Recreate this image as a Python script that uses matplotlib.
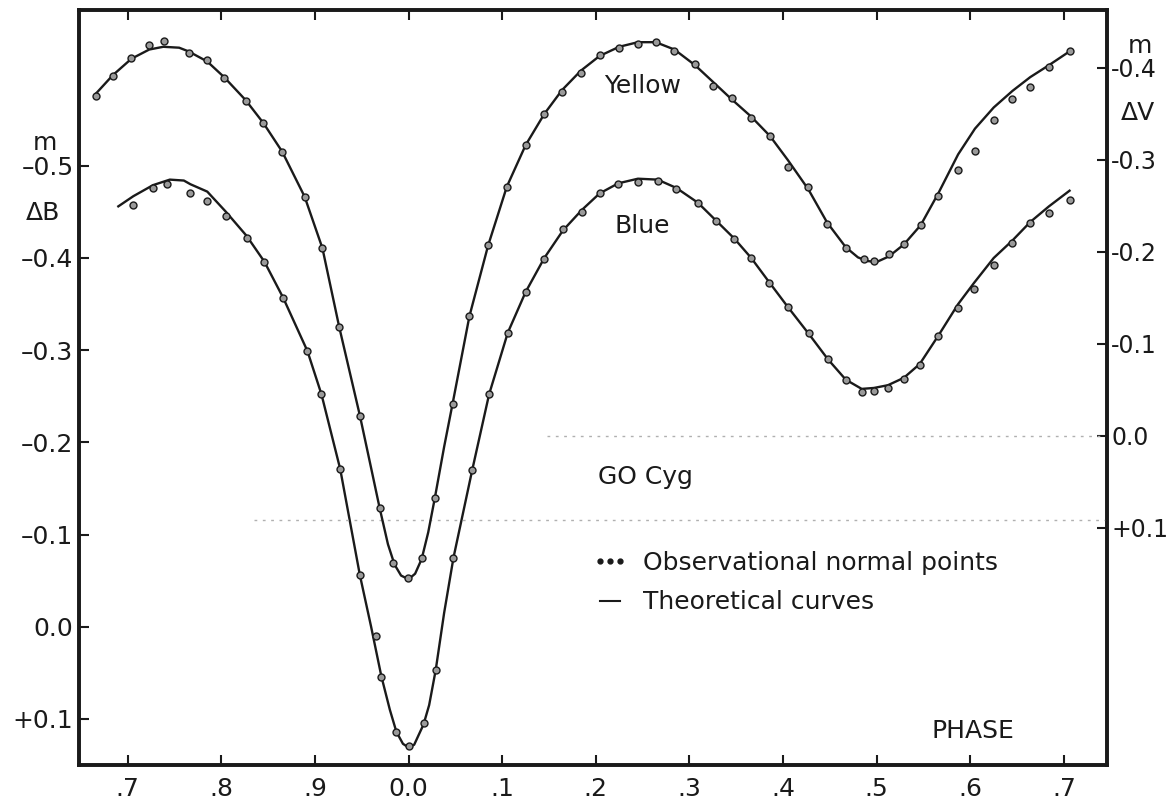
import matplotlib
matplotlib.use("Agg")
import matplotlib.pyplot as plt
from matplotlib.lines import Line2D

# observational normal points, yellow (right axis, delta V)
yel_phase = [-0.334, -0.316, -0.296, -0.277, -0.261, -0.235, -0.215, -0.197, -0.174, -0.155,
             -0.135, -0.111, -0.092, -0.074, -0.052, -0.031, -0.017, -0.001, 0.014, 0.028,
             0.048, 0.065, 0.085, 0.105, 0.125, 0.145, 0.164, 0.184, 0.204, 0.225,
             0.245, 0.264, 0.284, 0.306, 0.325, 0.345, 0.366, 0.386, 0.405, 0.427,
             0.447, 0.467, 0.486, 0.497, 0.513, 0.529, 0.547, 0.566, 0.587, 0.605,
             0.625, 0.645, 0.664, 0.684, 0.706]
yel_dv = [-0.370, -0.391, -0.411, -0.425, -0.429, -0.416, -0.409, -0.389, -0.364, -0.340,
          -0.309, -0.260, -0.204, -0.118, -0.022, 0.078, 0.138, 0.155, 0.133, 0.068,
          -0.035, -0.130, -0.207, -0.271, -0.316, -0.350, -0.374, -0.395, -0.414, -0.422,
          -0.426, -0.428, -0.418, -0.404, -0.380, -0.367, -0.346, -0.326, -0.292, -0.270,
          -0.230, -0.204, -0.192, -0.190, -0.198, -0.209, -0.229, -0.261, -0.289, -0.310,
          -0.343, -0.366, -0.379, -0.401, -0.418]

# observational normal points, blue (left axis, delta B)
blue_phase = [-0.294, -0.273, -0.258, -0.233, -0.215, -0.195, -0.173, -0.154, -0.134, -0.108,
              -0.093, -0.073, -0.052, -0.035, -0.029, -0.013, 0.000, 0.016, 0.029, 0.048,
              0.068, 0.086, 0.106, 0.125, 0.145, 0.165, 0.185, 0.204, 0.224, 0.245,
              0.266, 0.286, 0.309, 0.328, 0.348, 0.366, 0.385, 0.405, 0.428, 0.448,
              0.467, 0.484, 0.497, 0.512, 0.529, 0.546, 0.566, 0.587, 0.604, 0.625,
              0.645, 0.664, 0.684, 0.706]
blue_db = [-0.457, -0.476, -0.480, -0.471, -0.462, -0.446, -0.422, -0.396, -0.357, -0.299,
           -0.252, -0.171, -0.056, 0.010, 0.054, 0.114, 0.129, 0.104, 0.047, -0.075,
           -0.170, -0.252, -0.319, -0.363, -0.399, -0.431, -0.450, -0.471, -0.480, -0.482,
           -0.483, -0.475, -0.460, -0.440, -0.421, -0.400, -0.373, -0.347, -0.319, -0.290,
           -0.268, -0.255, -0.256, -0.259, -0.269, -0.284, -0.315, -0.346, -0.366, -0.392,
           -0.416, -0.438, -0.449, -0.463]

# theoretical curves
yel_curve_phase = [-0.334, -0.316, -0.296, -0.277, -0.262, -0.245, -0.235, -0.215, -0.197, -0.174,
                   -0.155, -0.135, -0.111, -0.092, -0.074, -0.052, -0.040, -0.031, -0.022, -0.015,
                   -0.008, 0.000, 0.007, 0.014, 0.021, 0.028, 0.038, 0.048, 0.065, 0.085,
                   0.105, 0.125, 0.145, 0.164, 0.184, 0.204, 0.225, 0.245, 0.264, 0.284,
                   0.306, 0.325, 0.345, 0.366, 0.386, 0.405, 0.427, 0.447, 0.467, 0.480,
                   0.490, 0.500, 0.513, 0.529, 0.547, 0.566, 0.587, 0.605, 0.625, 0.645,
                   0.664, 0.684, 0.706]
yel_curve = [-0.372, -0.392, -0.410, -0.420, -0.423, -0.422, -0.418, -0.407, -0.390, -0.365,
             -0.340, -0.309, -0.260, -0.204, -0.118, -0.022, 0.035, 0.078, 0.118, 0.140,
             0.152, 0.156, 0.150, 0.134, 0.105, 0.068, 0.012, -0.040, -0.130, -0.207,
             -0.271, -0.316, -0.350, -0.376, -0.397, -0.413, -0.423, -0.428, -0.428, -0.420,
             -0.403, -0.385, -0.366, -0.347, -0.326, -0.300, -0.268, -0.232, -0.205, -0.194,
             -0.190, -0.189, -0.195, -0.208, -0.229, -0.264, -0.306, -0.334, -0.357, -0.375,
             -0.390, -0.403, -0.418]

blue_curve_phase = [-0.310, -0.294, -0.273, -0.255, -0.240, -0.233, -0.215, -0.195, -0.173, -0.154,
                    -0.134, -0.108, -0.093, -0.073, -0.052, -0.040, -0.029, -0.020, -0.013, -0.006,
                    0.000, 0.006, 0.016, 0.022, 0.029, 0.038, 0.048, 0.068, 0.086, 0.106,
                    0.125, 0.145, 0.165, 0.185, 0.204, 0.224, 0.245, 0.266, 0.286, 0.309,
                    0.328, 0.348, 0.366, 0.385, 0.405, 0.428, 0.448, 0.467, 0.484, 0.497,
                    0.512, 0.529, 0.546, 0.566, 0.587, 0.604, 0.625, 0.645, 0.664, 0.684,
                    0.706]
blue_curve = [-0.456, -0.467, -0.479, -0.485, -0.484, -0.480, -0.472, -0.450, -0.424, -0.396,
              -0.357, -0.299, -0.252, -0.171, -0.056, 0.000, 0.054, 0.090, 0.114, 0.127,
              0.131, 0.128, 0.106, 0.085, 0.047, -0.015, -0.075, -0.170, -0.252, -0.319,
              -0.363, -0.400, -0.430, -0.452, -0.470, -0.481, -0.486, -0.485, -0.476, -0.460,
              -0.441, -0.421, -0.400, -0.374, -0.347, -0.317, -0.290, -0.268, -0.258, -0.259,
              -0.262, -0.270, -0.285, -0.316, -0.350, -0.373, -0.400, -0.419, -0.439, -0.456,
              -0.473]

x_ticks = [-0.3, -0.2, -0.1, 0.0, 0.1, 0.2, 0.3, 0.4, 0.5, 0.6, 0.7]
x_labels = [".7", ".8", ".9", "0.0", ".1", ".2", ".3", ".4", ".5", ".6", ".7"]
b_ticks = [-0.5, -0.4, -0.3, -0.2, -0.1, 0.0, 0.1]
b_labels = ["–0.5", "–0.4", "–0.3", "–0.2", "–0.1", "0.0", "+0.1"]
v_ticks = [-0.4, -0.3, -0.2, -0.1, 0.0, 0.1]
v_labels = ["-0.4", "-0.3", "-0.2", "-0.1", "0.0", "+0.1"]

plt.rcParams['font.family'] = ['DejaVu Sans']
ink = '#1a1a1a'
fs = 18

fig = plt.figure(figsize=(11.76, 8.1), dpi=100)
ax = fig.add_axes([79/1176, 45/810, 1028/1176, 755/810])
ax2 = ax.twinx()

ax.set_xlim(-0.352, 0.746)
ax.set_ylim(0.150, -0.669)
ax2.set_ylim(0.358, -0.463)

# faint partial lines as in the scan
ax2.axhline(0.0, xmin=0.455, xmax=1.0, color='#b0b0b0', lw=1, ls=(0, (2, 4)))
ax2.axhline(0.092, xmin=0.17, xmax=1.0, color='#b0b0b0', lw=1, ls=(0, (2, 4)))

ax.plot(blue_curve_phase, blue_curve, color=ink, lw=1.7)
ax2.plot(yel_curve_phase, yel_curve, color=ink, lw=1.7)
ax.plot(blue_phase, blue_db, ls='', marker='o', ms=5, mfc='#9a9a9a', mec=ink, mew=1.0)
ax2.plot(yel_phase, yel_dv, ls='', marker='o', ms=5, mfc='#9a9a9a', mec=ink, mew=1.0)

ax.set_xticks(x_ticks)
ax.set_xticklabels(x_labels, fontsize=fs, color=ink)
ax.set_yticks(b_ticks)
ax.set_yticklabels(b_labels, fontsize=fs, color=ink)
ax2.set_yticks(v_ticks)
ax2.set_yticklabels(v_labels, fontsize=fs - 1, color=ink)

ax.tick_params(axis='x', direction='in', top=True, length=7, width=1.5, pad=9, colors=ink)
ax.tick_params(axis='y', direction='in', length=7, width=1.5, pad=4, colors=ink)
ax2.tick_params(axis='y', direction='in', length=7, width=1.5, pad=3, colors=ink)

for a in (ax, ax2):
    for s in a.spines.values():
        s.set_linewidth(2.6)
        s.set_color(ink)

# axis unit labels
fig.text(45/1176, 1 - 143/810, "m", fontsize=fs, ha='center', va='center', color=ink)
fig.text(43/1176, 1 - 213/810, "ΔB", fontsize=fs, ha='center', va='center', color=ink)
fig.text(1140/1176, 1 - 46/810, "m", fontsize=fs, ha='center', va='center', color=ink)
fig.text(1138/1176, 1 - 113/810, "ΔV", fontsize=fs, ha='center', va='center', color=ink)

ax.text(0.25, -0.587, "Yellow", fontsize=fs, ha='center', va='center', color=ink)
ax.text(0.25, -0.435, "Blue", fontsize=fs, ha='center', va='center', color=ink)
ax.text(0.253, -0.162, "GO Cyg", fontsize=fs, ha='center', va='center', color=ink)
ax.text(0.603, 0.113, "PHASE", fontsize=fs, ha='center', va='center', color=ink)

handles = [Line2D([], [], ls='', marker='o', ms=3.5, mfc=ink, mec=ink),
           Line2D([], [], color=ink, lw=1.5)]
ax.legend(handles, ["Observational normal points", "Theoretical curves"],
          numpoints=3, loc='upper left', bbox_to_anchor=(0.49, 0.297),
          frameon=False, fontsize=fs, handlelength=1.4, handletextpad=0.6,
          labelspacing=0.62, borderaxespad=0, labelcolor=ink)

fig.savefig("out.png", dpi=100)
